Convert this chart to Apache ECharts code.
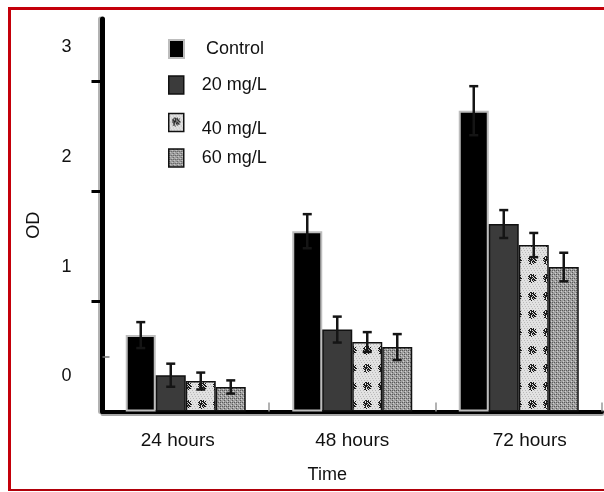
<!DOCTYPE html>
<html><head><meta charset="utf-8">
<script src="https://cdn.jsdelivr.net/npm/echarts@6/dist/echarts.min.js"></script>
<style>
html,body{margin:0;padding:0;background:#fff}
#c{width:604px;height:492px}
#f{position:absolute;left:8px;top:7px;width:600px;height:484px;box-sizing:border-box;border-top:3px solid #c4000a;border-left:3px solid #c4000a;border-bottom:2px solid #b0000a;pointer-events:none}
</style>
</head><body><div id="c"></div><div id="f"></div>
<script>
// ---- data ----
const categories = ['24 hours', '48 hours', '72 hours'];
const seriesNames = ['Control', '20 mg/L', '40 mg/L', '60 mg/L'];
const controlVals = [0.695, 1.64, 2.736];
const mg20Vals = [0.33, 0.745, 1.705];
const mg40Vals = [0.277, 0.632, 1.514];
const mg60Vals = [0.223, 0.586, 1.314];
const controlErr = [0.118, 0.155, 0.223];
const mg20Err = [0.105, 0.118, 0.127];
const mg40Err = [0.077, 0.09, 0.11];
const mg60Err = [0.06, 0.118, 0.13];
const yTickLabels = [0, 1, 2, 3];

// ---- patterns (styles) ----
function makePattern(w, h, draw) {
  const c = document.createElement('canvas');
  c.width = w; c.height = h;
  draw(c.getContext('2d'));
  return c;
}
const blob = [
  '..##.#...',
  '.#.###.#.',
  '##.#.##..',
  '.####.##.',
  '#.##.#.##',
  '.##.###..',
  '..#.#.##.',
  '.##..#...',
  '...#.....'
];
const pat40 = makePattern(15, 18, g => {
  g.fillStyle = '#e2e2e2'; g.fillRect(0, 0, 15, 18);
  g.fillStyle = '#b8b8b8';
  for (let x = 0; x < 15; x++) for (let y = 0; y < 18; y++) if ((x + y) % 3 === 0 && y % 2 === 0) g.fillRect(x, y, 1, 1);
  g.fillStyle = '#1c1c1c';
  blob.forEach((row, y) => { for (let x = 0; x < row.length; x++) if (row[x] === '#') g.fillRect(x + 3, y + 4, 1, 1); });
});
const pat60 = makePattern(4, 4, g => {
  g.fillStyle = '#a0a0a0'; g.fillRect(0, 0, 4, 4);
  g.fillStyle = '#5a5a5a'; g.fillRect(0, 0, 1, 1); g.fillRect(2, 2, 1, 1); g.fillRect(0, 2, 1, 1);
  g.fillStyle = '#d0d0d0'; g.fillRect(1, 3, 1, 1); g.fillRect(3, 1, 1, 1);
});

const FONT = "'Liberation Sans', Arial, sans-serif";
const valueSets = [controlVals, mg20Vals, mg40Vals, mg60Vals];
const errSets = [controlErr, mg20Err, mg40Err, mg60Err];
const barStyles = [
  { color: '#000', borderColor: '#bdbdbd', borderWidth: 2 },
  { color: '#3b3b3b', borderColor: '#111', borderWidth: 1.5 },
  { color: { image: pat40, repeat: 'repeat' }, borderColor: '#111', borderWidth: 1.5 },
  { color: { image: pat60, repeat: 'repeat' }, borderColor: '#111', borderWidth: 1.5 }
];
const BAR_W = 30;

const series = [];
seriesNames.forEach((n, i) => {
  series.push({
    name: n, type: 'bar', data: valueSets[i], barWidth: BAR_W, barGap: '0%',
    itemStyle: barStyles[i], silent: true
  });
});
seriesNames.forEach((n, i) => {
  series.push({
    name: n + ' err', type: 'custom', z: 10, silent: true,
    encode: { x: 0, y: 1 },
    data: categories.map((c, j) => [j, valueSets[i][j], errSets[i][j]]),
    renderItem: (params, api) => {
      const x = api.value(0), v = api.value(1), e = api.value(2);
      const top = api.coord([x, v + e]);
      const bot = api.coord([x, v - e]);
      const cx = top[0] + (i - 1.5) * BAR_W;
      const hw = 4.5;
      const st = { stroke: '#151515', lineWidth: 2.5 };
      return {
        type: 'group', children: [
          { type: 'line', shape: { x1: cx, y1: top[1], x2: cx, y2: bot[1] }, style: st },
          { type: 'line', shape: { x1: cx - hw, y1: top[1], x2: cx + hw, y2: top[1] }, style: st },
          { type: 'line', shape: { x1: cx - hw, y1: bot[1], x2: cx + hw, y2: bot[1] }, style: st }
        ]
      };
    }
  });
});

const legendPos = [
  { top: 39, pad: [0, 0, 0, 17], down: false },
  { top: 75, pad: [0, 0, 0, 13], down: false },
  { top: 107, pad: [0, 0, 0, 13], down: true },
  { top: 148, pad: [0, 0, 0, 13], down: false }
];
const legends = seriesNames.map((n, i) => ({
  data: [n], left: 168, top: legendPos[i].top, orient: 'vertical', padding: 0,
  itemWidth: 15, itemHeight: 18, icon: 'rect', selectedMode: false,
  formatter: legendPos[i].down ? (name => '\n' + name) : (name => name),
  itemStyle: { borderWidth: barStyles[i].borderWidth, borderColor: barStyles[i].borderColor },
  textStyle: { fontSize: 18, color: '#111', fontFamily: FONT, padding: legendPos[i].pad, lineHeight: legendPos[i].down ? 13 : 20 }
}));

const chart = echarts.init(document.getElementById('c'), null, { renderer: 'canvas' });
chart.setOption({
  animation: false,
  backgroundColor: '#fff',
  textStyle: { fontFamily: FONT },
  legend: legends,
  grid: { left: 102.5, right: 2, top: 19, bottom: 80.5, containLabel: false, outerBoundsMode: 'none' },
  xAxis: {
    type: 'category', data: categories,
    axisLine: { lineStyle: { color: '#000', width: 4, shadowColor: 'rgba(0,0,0,0.35)', shadowOffsetY: 2 } },
    axisTick: { show: true, inside: true, length: 9, interval: (idx) => idx !== 0, lineStyle: { color: '#999', width: 1.5 } },
    axisLabel: {
      margin: 20, fontSize: 19, color: '#111', fontFamily: FONT,
      formatter: (v, idx) => ['{l|', '{m|', '{r|'][idx] + v + '}',
      rich: {
        l: { fontSize: 19, color: '#111', fontFamily: FONT, padding: [0, 16, 0, 0] },
        m: { fontSize: 19, color: '#111', fontFamily: FONT },
        r: { fontSize: 19, color: '#111', fontFamily: FONT, padding: [0, 0, 0, 22] }
      }
    },
    name: 'Time', nameLocation: 'middle', nameGap: 55,
    nameTextStyle: { fontSize: 18, color: '#111', fontFamily: FONT, padding: [0, 50, 0, 0] },
    splitLine: { show: false }
  },
  yAxis: [
    {
      type: 'value', min: 0, max: 3.57, interval: 1, position: 'left',
      axisLine: { show: true, lineStyle: { color: '#000', width: 5, shadowColor: 'rgba(0,0,0,0.3)', shadowOffsetX: -2 } },
      axisTick: { show: true, inside: false, length: 11, customValues: [1, 2, 3], lineStyle: { color: '#000', width: 3 } },
      axisLabel: {
        customValues: yTickLabels, margin: 31, fontSize: 18, color: '#111', fontFamily: FONT,
        formatter: v => v + '\n\n', lineHeight: 35, showMinLabel: true, showMaxLabel: true, hideOverlap: false
      },
      splitLine: { show: false },
      name: 'OD', nameLocation: 'middle', nameGap: 59,
      nameTextStyle: { fontSize: 18, color: '#111', fontFamily: FONT, padding: [0, 20, 0, 0] }
    },
    {
      type: 'value', min: 0, max: 3.57, position: 'left',
      axisLine: { show: false }, axisLabel: { show: false }, splitLine: { show: false },
      axisTick: { show: true, inside: true, length: 7, customValues: [0.5], lineStyle: { color: '#777', width: 1.5 } }
    }
  ],
  series: series
});
</script>
</body></html>
